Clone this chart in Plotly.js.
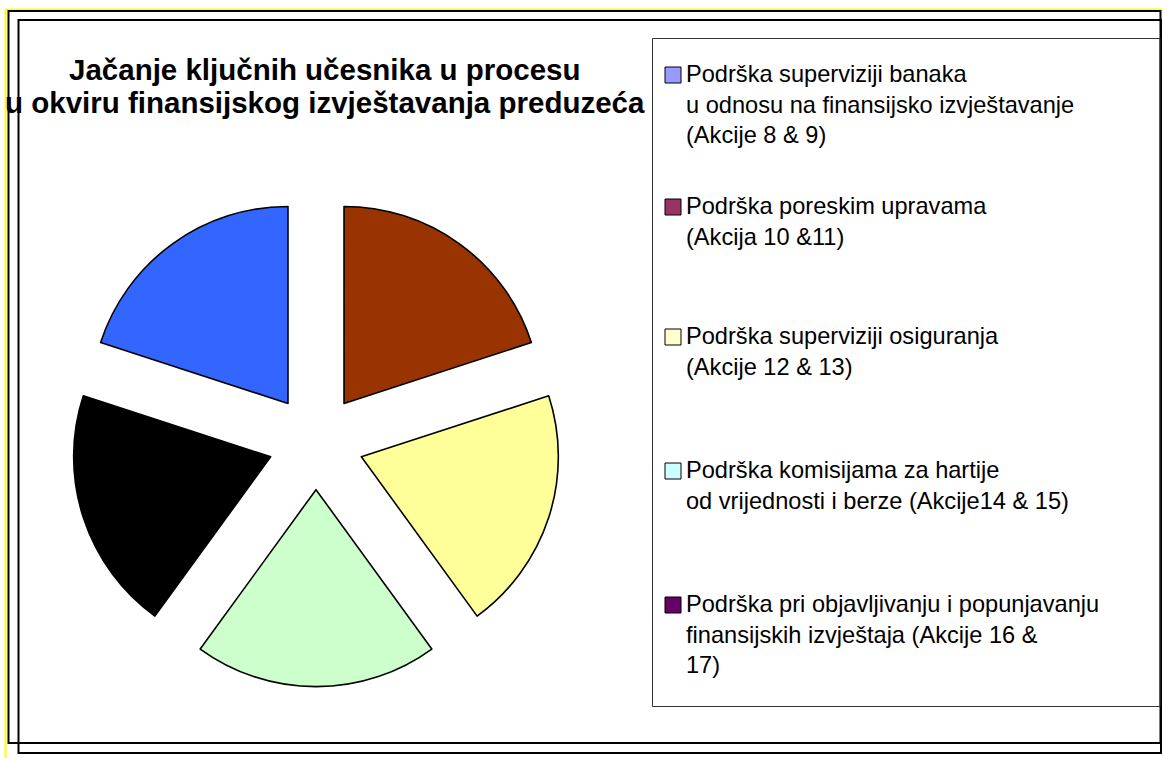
<!DOCTYPE html>
<html>
<head>
<meta charset="utf-8">
<script src="https://cdn.plot.ly/plotly-3.0.1.min.js"></script>
<style>
html,body{margin:0;padding:0;background:#fff;}
#chart{width:1163px;height:758px;}
</style>
</head>
<body>
<div id="chart"></div>
<script>
// ---- data ----
var titleLines = ["Jačanje ključnih učesnika u procesu", "u okviru finansijskog izvještavanja preduzeća"];
var categories = [
  ["Podrška superviziji banaka", "u odnosu na finansijsko izvještavanje", "(Akcije 8 & 9)"],
  ["Podrška poreskim upravama", "(Akcija 10 &11)"],
  ["Podrška superviziji osiguranja", "(Akcije 12 & 13)"],
  ["Podrška komisijama za hartije", "od vrijednosti i berze (Akcije14 & 15)"],
  ["Podrška pri objavljivanju i popunjavanju", "finansijskih izvještaja (Akcije 16 &", "17)"]
];
var values = [1, 1, 1, 1, 1];
var sliceColors = ["#3366FF", "#993300", "#FFFF99", "#CCFFCC", "#000000"];
var legendColors = ["#9999FF", "#993366", "#FFFFCC", "#CCFFFF", "#660066"];

// ---- layout helpers (pixel -> paper) ----
var W = 1163, H = 758;
function px(x){ return x / W; }
function py(y){ return 1 - y / H; }

var cx = 316, cy = 442, r = 197, pull = 0.242;
var half = r * (1 + pull);

var labels = categories.map(function(c){ return c.join(" "); });

var trace = {
  type: "pie",
  values: values,
  labels: labels,
  sort: false,
  direction: "clockwise",
  rotation: -72,
  pull: values.map(function(){ return pull; }),
  marker: { colors: sliceColors, line: { color: "#000000", width: 1.6 } },
  textinfo: "none",
  hoverinfo: "label",
  showlegend: false,
  domain: { x: [px(cx - half), px(cx + half)], y: [py(cy + half), py(cy - half)] }
};

var shapes = [];
var annotations = [];

// frames
shapes.push({type:"line", xref:"paper", yref:"paper", x0:px(5), x1:px(1163), y0:py(9.5), y1:py(9.5), line:{color:"#FFFF00", width:2}});
shapes.push({type:"line", xref:"paper", yref:"paper", x0:px(5.5), x1:px(5.5), y0:py(9), y1:py(758), line:{color:"#FFFF00", width:2}});
shapes.push({type:"rect", xref:"paper", yref:"paper", x0:px(8.5), x1:px(1160.5), y0:py(11), y1:py(743), line:{color:"#000000", width:2}});
shapes.push({type:"rect", xref:"paper", yref:"paper", x0:px(18.5), x1:px(1161), y0:py(20), y1:py(753), line:{color:"#000000", width:2}});
// legend box
shapes.push({type:"rect", xref:"paper", yref:"paper", x0:px(652.5), x1:px(1160), y0:py(38.5), y1:py(706.5), line:{color:"#333333", width:1}});

// title (two lines, tight spacing)
var titleY = [69, 102];
titleLines.forEach(function(t, i){
  annotations.push({
    xref:"paper", yref:"paper", x:px(325), y:py(titleY[i]), xanchor:"center", yanchor:"middle",
    text: "<b>" + t + "</b>", showarrow:false, align:"center",
    font:{family:"Liberation Sans, Arial, sans-serif", size:29.5, color:"#000000"}
  });
});

// custom legend
var fs = 23.6, lh = fs * 1.3;
var entryY = [74, 206, 336, 470, 604];
categories.forEach(function(lines, i){
  var yc = entryY[i];
  shapes.push({type:"rect", xref:"paper", yref:"paper",
    x0:px(665), x1:px(681), y0:py(yc - 7), y1:py(yc + 9),
    fillcolor: legendColors[i], line:{color:"#000000", width:1}});
  annotations.push({
    xref:"paper", yref:"paper", x:px(684), y:py(yc + (lines.length - 1) * lh / 2),
    xanchor:"left", yanchor:"middle", align:"left", showarrow:false,
    text: lines.join("<br>"),
    font:{family:"Liberation Sans, Arial, sans-serif", size:fs, color:"#000000"}
  });
});

var layout = {
  width: W, height: H,
  margin: {l:0, r:0, t:0, b:0},
  paper_bgcolor: "#ffffff",
  showlegend: false,
  shapes: shapes,
  annotations: annotations
};

Plotly.newPlot("chart", [trace], layout, {displayModeBar:false, staticPlot:true});
</script>
</body>
</html>
